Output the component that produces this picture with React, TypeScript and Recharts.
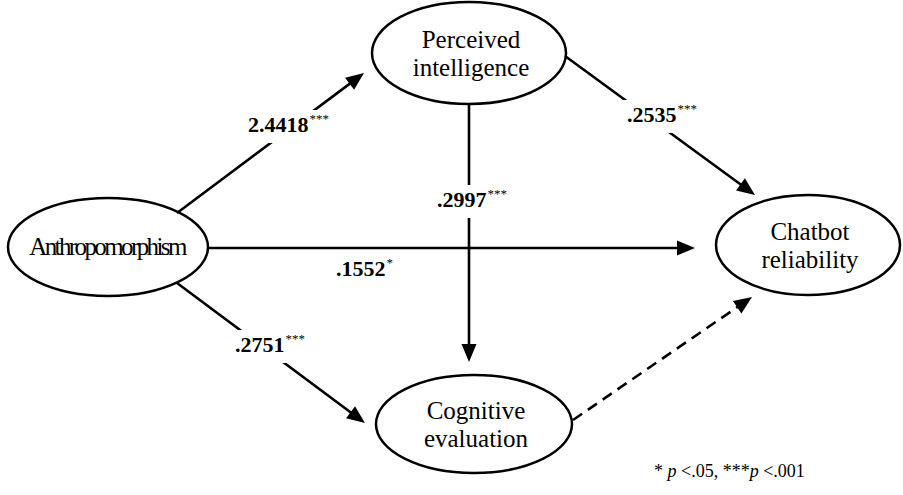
import React from 'react';
import { ScatterChart, Scatter, XAxis, YAxis, ReferenceLine, ReferenceDot } from 'recharts';

// ---- Nodes (latent constructs) ----
const nodeLines: string[][] = [
  ['Anthropomorphism'],
  ['Perceived', 'intelligence'],
  ['Cognitive', 'evaluation'],
  ['Chatbot', 'reliability'],
];
const nodeX = [108, 469, 474, 808];
const nodeY = [247, 53, 424, 245];
const nodeRx = [100, 97, 98, 92];
const nodeRy = [49, 51, 49, 50];

// ---- Paths (from -> to, diagram coordinates) ----
const edgeX1 = [177, 208, 177, 565, 469, 573];
const edgeY1 = [213, 248, 283, 56, 105, 420];
const edgeX2 = [364, 695, 365, 755, 469, 752];
const edgeY2 = [73, 248, 423, 195, 362, 297];
const edgeDashed = [false, false, false, false, false, true];

// ---- Path coefficients ----
const coefValues = ['2.4418', '.1552', '.2751', '.2535', '.2997'];
const coefStars = ['***', '*', '***', '***', '***'];
const coefX = [248, 336, 235, 627, 437];
const coefY = [132, 276, 352, 122, 207];
const coefMasked = [true, false, true, true, true];

// ---- Footnote ----
const footX = 654;
const footY = 477;

const FONT = '"Liberation Serif", "Times New Roman", "DejaVu Serif", serif';

const nodeData = nodeLines.map((lines, i) => ({
  x: nodeX[i],
  y: nodeY[i],
  lines,
  rx: nodeRx[i],
  ry: nodeRy[i],
}));

const NodeShape = (props: any) => {
  const { cx, cy, payload } = props;
  const lines: string[] = payload.lines;
  const n = lines.length;
  const single = n === 1;
  return (
    <g>
      <ellipse cx={cx} cy={cy} rx={payload.rx} ry={payload.ry} fill="none" stroke="#000" strokeWidth={2.5} />
      {lines.map((t, i) => (
        <text
          key={i}
          x={cx + (single ? -1 : 2)}
          y={cy + 9 + (i - (n - 1) / 2) * 28 - (single ? 1 : 0)}
          textAnchor="middle"
          style={{ fontFamily: FONT, fontSize: 25, letterSpacing: single ? -2.6 : 0 }}
          fill="#000"
        >
          {t}
        </text>
      ))}
    </g>
  );
};

const makeArrow = (dashed: boolean) => (props: any) => {
  const { x1, y1, x2, y2 } = props;
  const dx = x2 - x1;
  const dy = y2 - y1;
  const len = Math.sqrt(dx * dx + dy * dy) || 1;
  const ux = dx / len;
  const uy = dy / len;
  const L = 18;
  const W = 7.5;
  const bx = x2 - ux * L;
  const by = y2 - uy * L;
  const px = -uy * W;
  const py = ux * W;
  return (
    <g>
      <line
        x1={x1}
        y1={y1}
        x2={bx + ux * 2}
        y2={by + uy * 2}
        stroke="#000"
        strokeWidth={2.6}
        strokeDasharray={dashed ? '11 7' : undefined}
      />
      <polygon points={`${x2},${y2} ${bx + px},${by + py} ${bx - px},${by - py}`} fill="#000" />
    </g>
  );
};

const CoefShape = (props: any) => {
  const { cx, cy, value, stars, masked } = props;
  const w = value.length * 11 + stars.length * 6.5 + 10;
  return (
    <g>
      {masked && <rect x={cx - 5} y={cy - 22} width={w} height={33} fill="#fff" />}
      <text x={cx} y={cy} style={{ fontFamily: FONT, fontSize: 22, fontWeight: 'bold' }} fill="#000">
        {value}
        <tspan style={{ fontSize: 13, fontWeight: 'normal' }} dy={-9} dx={1}>
          {stars}
        </tspan>
      </text>
    </g>
  );
};

const FootShape = (props: any) => {
  const { cx, cy } = props;
  return (
    <text x={cx} y={cy} style={{ fontFamily: FONT, fontSize: 18 }} fill="#000">
      {'* '}
      <tspan style={{ fontStyle: 'italic' }}>p</tspan>
      {' <.05, ***'}
      <tspan style={{ fontStyle: 'italic' }}>p</tspan>
      {' <.001'}
    </text>
  );
};

export default function App() {
  return (
    <div style={{ position: 'absolute', left: 0, top: 0, width: 903, height: 495, background: '#fff', fontFamily: FONT }}>
      <ScatterChart width={903} height={495} margin={{ top: 0, right: 0, bottom: 0, left: 0 }}>
        <XAxis type="number" dataKey="x" domain={[0, 903]} hide allowDataOverflow />
        <YAxis type="number" dataKey="y" domain={[0, 495]} reversed hide allowDataOverflow />
        {edgeX1.map((x1, i) => (
          <ReferenceLine
            key={`e${i}`}
            segment={[
              { x: x1, y: edgeY1[i] },
              { x: edgeX2[i], y: edgeY2[i] },
            ]}
            ifOverflow="visible"
            shape={makeArrow(edgeDashed[i])}
          />
        ))}
        <Scatter data={nodeData} shape={NodeShape} isAnimationActive={false} />
        {coefValues.map((v, i) => (
          <ReferenceDot
            key={`c${i}`}
            x={coefX[i]}
            y={coefY[i]}
            r={1}
            ifOverflow="visible"
            shape={(p: any) => (
              <CoefShape cx={p.cx} cy={p.cy} value={v} stars={coefStars[i]} masked={coefMasked[i]} />
            )}
          />
        ))}
        <ReferenceDot x={footX} y={footY} r={1} ifOverflow="visible" shape={FootShape} />
      </ScatterChart>
    </div>
  );
}
